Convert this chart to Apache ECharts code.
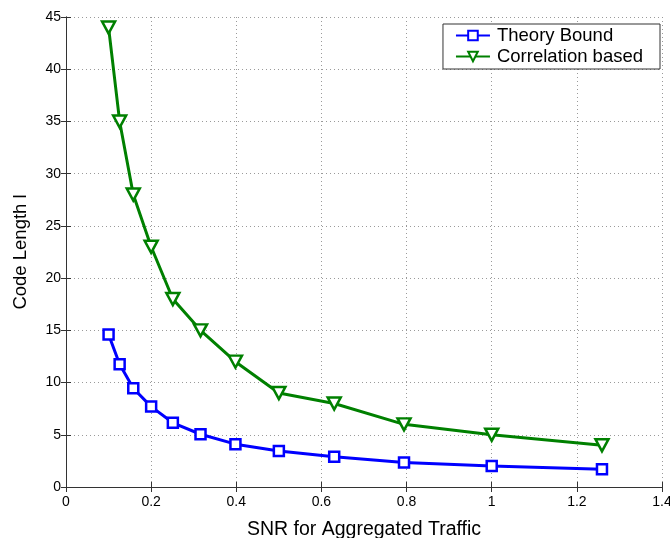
<!DOCTYPE html>
<html><head><meta charset="utf-8">
<script src="https://cdn.jsdelivr.net/npm/echarts@6/dist/echarts.min.js"></script>
<style>html,body{margin:0;padding:0;background:#fff}#c{width:670px;height:538px}</style>
</head><body><div id="c"></div>
<script>
var snr = [0.1, 0.126, 0.158, 0.2, 0.251, 0.316, 0.398, 0.5, 0.63, 0.794, 1.0, 1.259];
var theoryBound = [14.6, 11.75, 9.45, 7.7, 6.15, 5.05, 4.1, 3.45, 2.9, 2.35, 2.0, 1.7];
var correlation = [44, 35, 28, 23, 18, 15, 12, 9, 8, 6, 5, 4];
var seriesNames = ['Theory Bound', 'Correlation based'];
var xTitle = 'SNR for Aggregated Traffic';
var yTitle = 'Code Length l';

function pairs(xs, ys){ return xs.map(function(x,i){return [x, ys[i]];}); }
var font = 'Liberation Sans, Arial, sans-serif';
var tri = 'path://M0,0 L10,0 L5,9 Z';
var chart = echarts.init(document.getElementById('c'));
var gridLine = {show:true, lineStyle:{color:'#9a9a9a', type:[1,3], width:1}};
chart.setOption({
  animation:false,
  backgroundColor:'#fff',
  grid:{left:66, top:17, right:8, bottom:51, outerBoundsMode:'none', containLabel:false},
  legend:{
    right:10, top:24, orient:'vertical', itemGap:2, itemWidth:34, itemHeight:12,
    backgroundColor:'#fff', borderColor:'#333', borderWidth:1, padding:[2,17,3,12],
    textStyle:{fontFamily:font, fontSize:18.5, color:'#000', padding:[0,0,0,2]},
    data:seriesNames
  },
  xAxis:[{
    type:'value', min:0, max:1.4, interval:0.2,
    name:xTitle, nameLocation:'middle', nameGap:33,
    nameTextStyle:{fontFamily:font, fontSize:19.5, color:'#000'},
    axisLine:{show:true, lineStyle:{color:'#333'}},
    axisTick:{show:true, inside:true, length:5, lineStyle:{color:'#333'}},
    axisLabel:{fontFamily:font, fontSize:14, color:'#000', margin:8},
    splitLine:gridLine
  },{
    type:'value', position:'top', min:0, max:1.4, interval:0.2,
    axisLine:{show:true, lineStyle:{color:'#333'}},
    axisTick:{show:true, inside:true, length:5, lineStyle:{color:'#333'}},
    axisLabel:{show:false}, splitLine:{show:false}
  }],
  yAxis:[{
    type:'value', min:0, max:45, interval:5,
    name:yTitle, nameLocation:'middle', nameGap:36,
    nameTextStyle:{fontFamily:font, fontSize:18.5, color:'#000'},
    axisLine:{show:true, lineStyle:{color:'#333'}},
    axisTick:{show:true, inside:true, length:5, lineStyle:{color:'#333'}},
    axisLabel:{fontFamily:font, fontSize:14, color:'#000', margin:5},
    splitLine:gridLine
  },{
    type:'value', position:'right', min:0, max:45, interval:5,
    axisLine:{show:true, lineStyle:{color:'#333'}},
    axisTick:{show:true, inside:true, length:5, lineStyle:{color:'#333'}},
    axisLabel:{show:false}, splitLine:{show:false}
  }],
  series:[{
    name:seriesNames[0], type:'line', data:pairs(snr, theoryBound),
    symbol:'rect', symbolSize:10, showAllSymbol:true,
    lineStyle:{color:'#0000ff', width:3},
    itemStyle:{color:'#fff', borderColor:'#0000ff', borderWidth:2.5},
    color:'#0000ff'
  },{
    name:seriesNames[1], type:'line', data:pairs(snr, correlation),
    symbol:tri, symbolSize:[13,12], showAllSymbol:true,
    lineStyle:{color:'#008000', width:3},
    itemStyle:{color:'#fff', borderColor:'#008000', borderWidth:2.5},
    color:'#008000'
  }]
});
</script></body></html>
